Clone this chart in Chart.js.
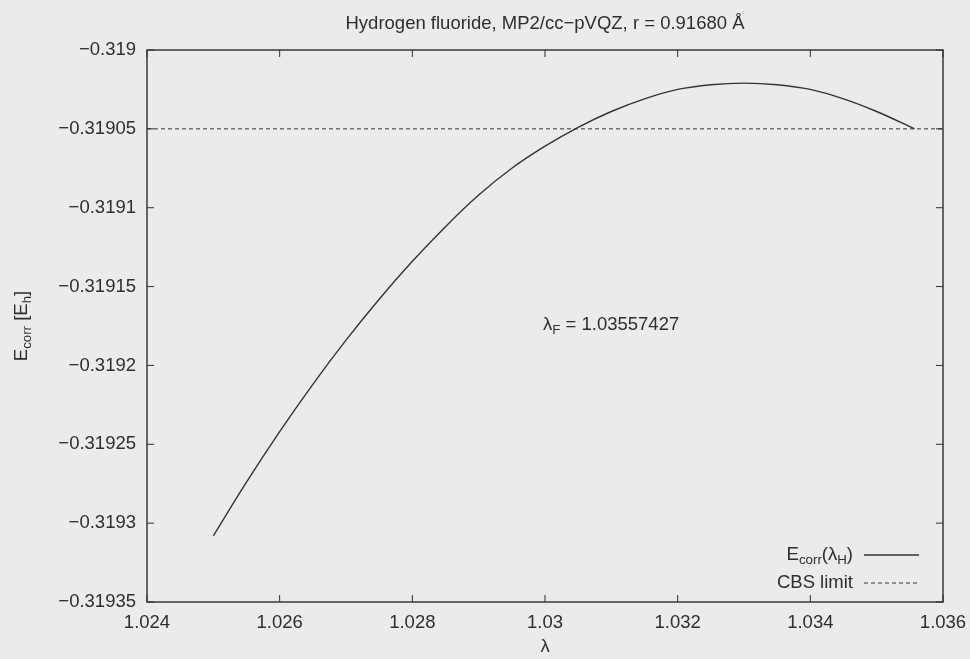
<!DOCTYPE html>
<html>
<head>
<meta charset="utf-8">
<script src="https://cdn.jsdelivr.net/npm/chart.js@4/dist/chart.umd.min.js"></script>
<style>
    html, body { margin: 0; padding: 0; background: #ebebeb; }
    #wrap { width: 970px; height: 659px; position: relative; }
</style>
</head>
<body>
<div id="wrap"><canvas id="hfChart"></canvas></div>
<script>
// lambda (scaling factor) and MP2 correlation energy
const lambdaValues = [1.025, 1.0255, 1.026, 1.0265, 1.027, 1.0275, 1.028, 1.0285, 1.029, 1.0295,
    1.030, 1.0305, 1.031, 1.0315, 1.032, 1.0325, 1.033, 1.0335, 1.034, 1.0345, 1.035, 1.03557];
const ecorrValues = [-0.319308, -0.319274, -0.319242, -0.319212, -0.319184, -0.319158, -0.319134,
    -0.319112, -0.319092, -0.319075, -0.319061, -0.319049, -0.319039, -0.319031, -0.319025,
    -0.319022, -0.319021, -0.319022, -0.319025, -0.319031, -0.319039, -0.319050];

// CBS limit reference line
const cbsLambda = [1.024, 1.036];
const cbsValues = [-0.31905, -0.31905];

const xTicks = [1.024, 1.026, 1.028, 1.03, 1.032, 1.034, 1.036];
const yTicks = [-0.319, -0.31905, -0.3191, -0.31915, -0.3192, -0.31925, -0.3193, -0.31935];

const FONT = '"Liberation Sans", Arial, sans-serif';
const INK = '#2e2e2e';
const FS = 18.5;

function fmt(v) {
    return String(Number(v.toFixed(6))).replace('-', '\u2212');
}

// text with subscript pieces, parts = [[text, isSub], ...]
function richWidth(ctx, parts, size) {
    let w = 0;
    parts.forEach(([t, sub]) => {
        ctx.font = (sub ? size * 0.72 : size) + 'px ' + FONT;
        w += ctx.measureText(t).width;
    });
    return w;
}
function drawRich(ctx, parts, x, y, size, align) {
    const w = richWidth(ctx, parts, size);
    let cx = align === 'right' ? x - w : align === 'center' ? x - w / 2 : x;
    ctx.textBaseline = 'middle';
    ctx.textAlign = 'left';
    parts.forEach(([t, sub]) => {
        ctx.font = (sub ? size * 0.72 : size) + 'px ' + FONT;
        ctx.fillText(t, cx, sub ? y + size * 0.3 : y);
        cx += ctx.measureText(t).width;
    });
}

const framePlugin = {
    id: 'frame',
    afterDatasetsDraw(chart) {
        const { ctx, chartArea: a, scales: { x, y } } = chart;
        ctx.save();
        ctx.strokeStyle = INK;
        ctx.lineWidth = 1.4;
        ctx.strokeRect(a.left, a.top, a.right - a.left, a.bottom - a.top);

        // inward ticks, mirrored on all four sides
        ctx.lineWidth = 1;
        const tl = 7;
        ctx.beginPath();
        xTicks.forEach(v => {
            const px = x.getPixelForValue(v);
            ctx.moveTo(px, a.bottom); ctx.lineTo(px, a.bottom - tl);
            ctx.moveTo(px, a.top); ctx.lineTo(px, a.top + tl);
        });
        yTicks.forEach(v => {
            const py = y.getPixelForValue(v);
            ctx.moveTo(a.left, py); ctx.lineTo(a.left + tl, py);
            ctx.moveTo(a.right, py); ctx.lineTo(a.right - tl, py);
        });
        ctx.stroke();

        ctx.fillStyle = INK;
        // title
        ctx.font = FS + 'px ' + FONT;
        ctx.textAlign = 'center';
        ctx.textBaseline = 'middle';
        ctx.fillText('Hydrogen fluoride, MP2/cc\u2212pVQZ, r = 0.91680 \u00C5', (a.left + a.right) / 2, 24);

        // x axis title
        ctx.fillText('\u03BB', (a.left + a.right) / 2, 647);

        // y axis title
        ctx.save();
        ctx.translate(22, (a.top + a.bottom) / 2);
        ctx.rotate(-Math.PI / 2);
        drawRich(ctx, [['E', false], ['corr', true], [' [E', false], ['h', true], [']', false]], 0, 0, FS, 'center');
        ctx.restore();

        // annotation
        drawRich(ctx, [['\u03BB', false], ['F', true], [' = 1.03557427', false]],
            x.getPixelForValue(1.02997), y.getPixelForValue(-0.319174), FS, 'left');

        // legend
        const rows = [
            [[['E', false], ['corr', true], ['(\u03BB', false], ['H', true], [')', false]], chart.data.datasets[0]],
            [[['CBS limit', false]], chart.data.datasets[1]]
        ];
        rows.forEach(([parts, ds], i) => {
            const ry = a.bottom - 47 + i * 28;
            ctx.fillStyle = INK;
            drawRich(ctx, parts, a.right - 90, ry, FS, 'right');
            ctx.strokeStyle = ds.borderColor;
            ctx.lineWidth = ds.borderWidth;
            ctx.setLineDash(ds.borderDash || []);
            ctx.beginPath();
            ctx.moveTo(a.right - 79, ry);
            ctx.lineTo(a.right - 24, ry);
            ctx.stroke();
            ctx.setLineDash([]);
        });
        ctx.restore();
    }
};

const ctx = document.getElementById('hfChart').getContext('2d');
new Chart(ctx, {
    type: 'line',
    data: {
        datasets: [
            {
                label: 'E_corr(lambda_H)',
                data: lambdaValues.map((l, i) => ({ x: l, y: ecorrValues[i] })),
                borderColor: '#333333',
                borderWidth: 1.4,
                pointRadius: 0,
                fill: false,
                cubicInterpolationMode: 'monotone'
            },
            {
                label: 'CBS limit',
                data: cbsLambda.map((l, i) => ({ x: l, y: cbsValues[i] })),
                borderColor: '#333333',
                borderWidth: 1,
                borderDash: [4, 3],
                pointRadius: 0,
                fill: false
            }
        ]
    },
    options: {
        responsive: true,
        maintainAspectRatio: false,
        animation: false,
        layout: { padding: { left: 0, right: 27, top: 50, bottom: 0 } },
        plugins: {
            legend: { display: false },
            title: { display: false },
            tooltip: { enabled: false }
        },
        scales: {
            x: {
                type: 'linear',
                min: 1.024,
                max: 1.036,
                grid: { display: false, drawTicks: false },
                border: { display: false },
                afterBuildTicks: scale => { scale.ticks = xTicks.map(v => ({ value: v })); },
                afterFit: scale => {
                    scale.height = 57;
                    scale.paddingLeft = 0;
                    scale.paddingRight = 0;
                },
                ticks: {
                    padding: 10,
                    color: INK,
                    font: { family: FONT, size: FS },
                    maxRotation: 0,
                    callback: v => fmt(v)
                }
            },
            y: {
                type: 'linear',
                min: -0.31935,
                max: -0.319,
                grid: { display: false, drawTicks: false },
                border: { display: false },
                afterBuildTicks: scale => { scale.ticks = yTicks.map(v => ({ value: v })); },
                afterFit: scale => {
                    scale.width = 147;
                    scale.paddingTop = 0;
                    scale.paddingBottom = 0;
                },
                ticks: {
                    padding: 11,
                    color: INK,
                    font: { family: FONT, size: FS },
                    callback: v => fmt(v)
                }
            }
        }
    },
    plugins: [framePlugin]
});
</script>
</body>
</html>
